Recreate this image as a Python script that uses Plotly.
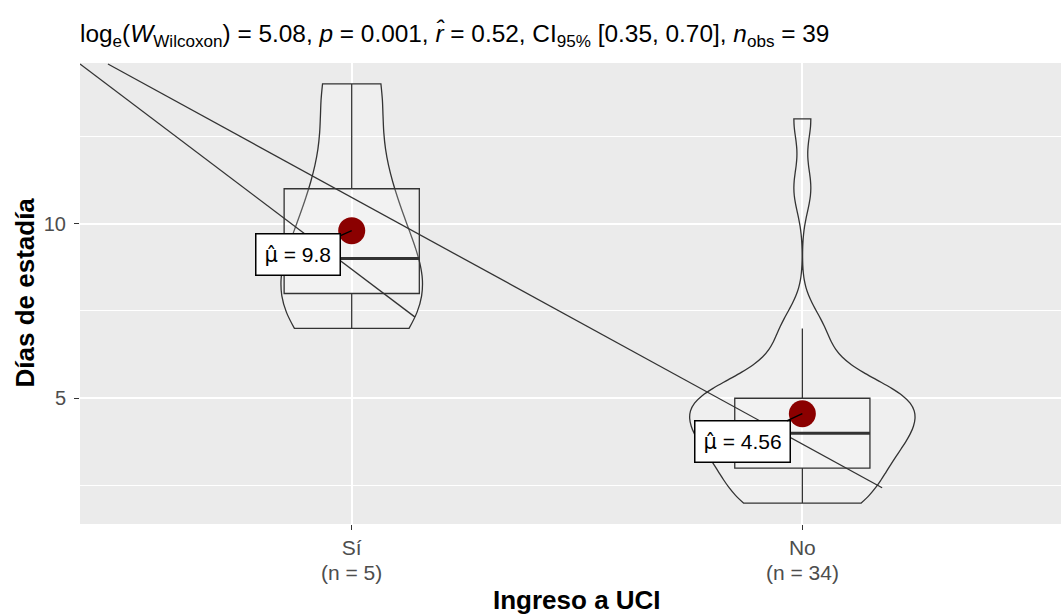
import numpy as np
import plotly.graph_objects as go

# ---------------- data ----------------
groups = ["Sí", "No"]
group_pos = [1, 2]

dias_si = [7, 8, 9, 11, 14]
dias_no = [2, 2, 2, 2, 2,
           3, 3, 3, 3, 3, 3,
           4, 4, 4, 4, 4, 4, 4, 4,
           5, 5, 5, 5, 5, 5, 5, 5, 5,
           6, 6,
           7, 7,
           11, 13]
group_data = [dias_si, dias_no]

# subtitle statistics
stat_log_w = "5.08"
stat_p = "0.001"
stat_r = "0.52"
stat_ci = "[0.35, 0.70]"
stat_nobs = "39"

# stray segments visible in the picture (data coordinates)
seg_a_x = [0.397, 1.1405]
seg_a_y = [14.571, 7.323]
seg_b_x = [0.459, 2.177]
seg_b_y = [14.571, 2.437]

y_ticks = [5, 10]
y_minor = [2.5, 7.5, 12.5]

# ---------------- style ----------------
FONT = "Liberation Sans, Arial, Helvetica, sans-serif"
LINE = "#333333"
PANEL = "#EBEBEB"
MEAN_COL = "#8B0000"
VIOLIN_W = 0.5
BOX_W = 0.3
TICK_COL = "#4D4D4D"


def nrd0(v):
    v = np.asarray(v, float)
    iqr = np.subtract(*np.percentile(v, [75, 25]))
    lo = min(np.std(v, ddof=1), iqr / 1.34)
    return 0.9 * lo * len(v) ** (-0.2)


def kde_max(v, bw):
    v = np.asarray(v, float)
    g = np.linspace(v.min(), v.max(), 512)
    d = np.exp(-0.5 * ((g[:, None] - v[None, :]) / bw) ** 2).sum(1)
    return (d / (len(v) * bw * np.sqrt(2 * np.pi))).max()


bws = [nrd0(v) for v in group_data]
peaks = [kde_max(v, b) for v, b in zip(group_data, bws)]
top_peak = max(peaks)

fig = go.Figure()

# violins (area-scaled like ggplot's scale = "area")
for i, (pos, vals) in enumerate(zip(group_pos, group_data)):
    fig.add_trace(go.Violin(
        x=[pos] * len(vals), y=vals,
        width=VIOLIN_W * peaks[i] / top_peak,
        scalegroup=f"g{i}", scalemode="width", spanmode="hard",
        bandwidth=bws[i], points=False,
        line=dict(color=LINE, width=1.3),
        fillcolor="rgba(255,255,255,0.2)",
        box_visible=False, meanline_visible=False,
        hoverinfo="skip", showlegend=False,
    ))

# boxes
for pos, vals in zip(group_pos, group_data):
    v = np.asarray(vals, float)
    q1, med, q3 = np.percentile(v, [25, 50, 75])
    iqr = q3 - q1
    lo = v[v >= q1 - 1.5 * iqr].min()
    hi = v[v <= q3 + 1.5 * iqr].max()
    fig.add_trace(go.Box(
        x=[pos], q1=[q1], median=[med], q3=[q3],
        lowerfence=[lo], upperfence=[hi],
        width=BOX_W, whiskerwidth=0,
        line=dict(color=LINE, width=1.3),
        fillcolor="rgba(255,255,255,0.2)",
        hoverinfo="skip", showlegend=False,
    ))
    fig.add_trace(go.Scatter(
        x=[pos - BOX_W / 2, pos + BOX_W / 2], y=[med, med],
        mode="lines", line=dict(color=LINE, width=3),
        hoverinfo="skip", showlegend=False,
    ))

for sx, sy in [(seg_a_x, seg_a_y), (seg_b_x, seg_b_y)]:
    fig.add_trace(go.Scatter(
        x=sx, y=sy, mode="lines", line=dict(color=LINE, width=1.3),
        hoverinfo="skip", showlegend=False,
    ))

means = [float(np.mean(v)) for v in group_data]
fig.add_trace(go.Scatter(
    x=group_pos, y=means, mode="markers",
    marker=dict(color=MEAN_COL, size=27, line=dict(width=0)),
    hoverinfo="skip", showlegend=False,
))

label_offsets = [(-54, 24), (-60, 28)]
for pos, m, (ax, ay) in zip(group_pos, means, label_offsets):
    txt = f"{m:.2f}".rstrip("0").rstrip(".")
    fig.add_annotation(
        x=pos, y=m, xref="x", yref="y",
        text=(f"<span style='font-family:DejaVu Sans'>μ̂</span> = {txt}"),
        showarrow=True, arrowhead=0, arrowwidth=1.3, arrowcolor="black",
        ax=ax, ay=ay, standoff=0,
        font=dict(family=FONT, size=21, color="black"),
        bgcolor="white", bordercolor="black", borderwidth=1.5, borderpad=8,
    )

# group sizes under the tick labels
for pos, vals in zip(group_pos, group_data):
    fig.add_annotation(
        x=pos, xref="x", y=0, yref="paper", yanchor="middle",
        yshift=-48, showarrow=False, text=f"(n = {len(vals)})",
        font=dict(family=FONT, size=21, color=TICK_COL),
    )

# axis titles
fig.add_annotation(
    x=0.5, xref="paper", y=0, yref="paper", yanchor="middle",
    xshift=6, yshift=-76, showarrow=False, text="<b>Ingreso a UCI</b>",
    font=dict(family=FONT, size=26, color="black"), borderpad=0,
)
fig.add_annotation(
    x=0, xref="paper", y=0.5, yref="paper", xanchor="center",
    xshift=-56, yshift=1, showarrow=False, textangle=-90,
    text="<b>Días de estadía</b>",
    font=dict(family=FONT, size=26, color="black"),
)

title = (f"log<sub>e</sub>(<i>W</i><sub>Wilcoxon</sub>) = {stat_log_w}, "
         f"<i>p</i> = {stat_p}, <i>r̂</i> = {stat_r}, "
         f"CI<sub>95%</sub> {stat_ci}, <i>n</i><sub>obs</sub> = {stat_nobs}")

fig.update_layout(
    width=1061, height=615,
    margin=dict(l=80, r=0, t=63, b=91),
    paper_bgcolor="white", plot_bgcolor=PANEL,
    font=dict(family=FONT, color="black"),
    title=dict(text=title, x=0, xref="paper", xanchor="left",
               y=1 - 33 / 615, yref="container", yanchor="middle",
               font=dict(family=FONT, size=24.4, color="black")),
    showlegend=False,
)
fig.update_xaxes(
    range=[0.397, 2.574], tickvals=group_pos, ticktext=groups,
    showgrid=True, gridcolor="white", gridwidth=1.6, zeroline=False,
    ticks="outside", ticklen=5, tickcolor=LINE, tickwidth=1.2,
    tickfont=dict(family=FONT, size=21, color=TICK_COL),
    automargin=False,
)
fig.update_yaxes(
    range=[1.4, 14.6], tickvals=y_ticks,
    showgrid=True, gridcolor="white", gridwidth=1.6, zeroline=False,
    ticks="outside", ticklen=5, tickcolor=LINE, tickwidth=1.2,
    ticklabelstandoff=4,
    tickfont=dict(family=FONT, size=20, color=TICK_COL),
    minor=dict(tickvals=y_minor, showgrid=True, gridcolor="white",
               gridwidth=0.8, ticklen=0),
    automargin=False,
)

fig.write_html(
    "out.html",
    config={"displayModeBar": False},
    post_script="document.body.style.margin='0';"
                "document.body.style.overflow='hidden';",
)
